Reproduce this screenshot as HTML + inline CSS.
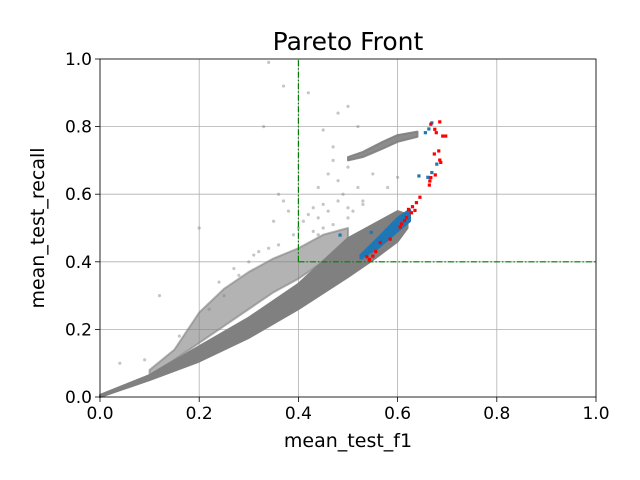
<!DOCTYPE html>
<html><head><meta charset="utf-8"><style>
html,body{margin:0;padding:0;background:#fff;}
svg{display:block;font-family:"DejaVu Sans","Liberation Sans",sans-serif;}
</style></head><body>
<svg id="chart" width="640" height="480" viewBox="0 0 640 480">
<rect x="0" y="0" width="640" height="480" fill="#fff"/>
<text x="348" y="50" font-size="25" text-anchor="middle">Pareto Front</text>
<text x="348" y="447" font-size="19" text-anchor="middle">mean_test_f1</text>
<text x="44" y="228" font-size="19" text-anchor="middle" transform="rotate(-90 44 228)">mean_test_recall</text>
<g id="grid"></g>
<g id="marks"></g>
<g id="axes"></g>
</svg>
<script>
const xTicks=[0,0.2,0.4,0.6,0.8,1.0];
const yTicks=[0,0.2,0.4,0.6,0.8,1.0];
const tickLabels=["0.0","0.2","0.4","0.6","0.8","1.0"];
const mainBandX=[0,0.1,0.2,0.3,0.4,0.5,0.55,0.6,0.62];
const mainBandLow=[0,0.05,0.105,0.175,0.26,0.355,0.405,0.46,0.5];
const mainBandHigh=[0.006,0.065,0.15,0.235,0.335,0.47,0.51,0.55,0.54];
const upperBandX=[0.1,0.15,0.2,0.25,0.3,0.35,0.4,0.45,0.5];
const upperBandLow=[0.065,0.11,0.16,0.21,0.26,0.31,0.35,0.4,0.45];
const upperBandHigh=[0.08,0.14,0.25,0.32,0.37,0.41,0.44,0.48,0.5];
const clusterX=[0.5,0.53,0.57,0.6,0.64];
const clusterLow=[0.7,0.71,0.735,0.755,0.77];
const clusterHigh=[0.71,0.725,0.755,0.775,0.785];
const blueBandX=[0.525,0.56,0.6,0.625];
const blueBandLow=[0.41,0.44,0.49,0.52];
const blueBandHigh=[0.42,0.47,0.53,0.555];
const greyX=[0.33,0.2,0.12,0.04,0.34,0.37,0.45,0.42,0.38,0.35,0.36,0.37,0.44,0.46,0.48,0.47,0.49,0.52,0.5,0.43,0.45,0.41,0.39,0.44,0.5,0.55,0.58,0.53,0.6,0.28,0.3,0.25,0.22,0.16,0.09,0.32,0.48,0.5,0.47,0.52,0.4,0.42,0.44,0.46,0.48,0.5,0.51,0.53,0.47,0.45,0.43,0.36,0.34,0.31,0.27,0.24];
const greyY=[0.8,0.5,0.3,0.1,0.99,0.92,0.79,0.9,0.55,0.52,0.6,0.58,0.62,0.66,0.64,0.7,0.6,0.62,0.56,0.56,0.57,0.52,0.48,0.48,0.68,0.66,0.62,0.58,0.65,0.36,0.4,0.3,0.26,0.18,0.11,0.43,0.84,0.86,0.74,0.8,0.5,0.54,0.53,0.55,0.58,0.53,0.55,0.57,0.51,0.5,0.49,0.45,0.44,0.42,0.38,0.34];
const redX=[0.685,0.667,0.675,0.678,0.691,0.697,0.683,0.674,0.685,0.687,0.676,0.667,0.665,0.664,0.645,0.638,0.63,0.622,0.635,0.628,0.618,0.614,0.608,0.605,0.585,0.565,0.556,0.55,0.538,0.543];
const redY=[0.814,0.807,0.792,0.782,0.772,0.772,0.728,0.719,0.701,0.694,0.657,0.649,0.639,0.627,0.591,0.575,0.563,0.555,0.552,0.545,0.531,0.522,0.512,0.503,0.467,0.457,0.43,0.417,0.415,0.407];
const blueX=[0.669,0.663,0.656,0.679,0.643,0.661,0.669,0.625,0.615,0.605,0.598,0.591,0.585,0.578,0.568,0.562,0.551,0.544,0.534,0.528,0.484,0.547,0.591,0.611];
const blueY=[0.811,0.793,0.782,0.689,0.654,0.65,0.664,0.547,0.537,0.517,0.502,0.493,0.483,0.479,0.469,0.456,0.446,0.436,0.422,0.412,0.479,0.487,0.512,0.529];

const X0=100,X1=596,Y0=397,Y1=59;
const sx=v=>X0+v*(X1-X0);
const sy=v=>Y0-v*(Y0-Y1);
const NS="http://www.w3.org/2000/svg";
function mk(tag,attrs,parent){const e=document.createElementNS(NS,tag);for(const k in attrs)e.setAttribute(k,attrs[k]);parent.appendChild(e);return e;}
const grid=document.getElementById('grid'),marks=document.getElementById('marks'),axes=document.getElementById('axes');

xTicks.forEach((t,i)=>{
  const l=mk('line',{x1:sx(t),x2:sx(t),y1:Y1,y2:Y0,stroke:'#b0b0b0','stroke-width':0.8},grid);
  
  
  const tk=mk('line',{x1:sx(t),x2:sx(t),y1:Y0,y2:Y0+5,stroke:'#000','stroke-width':0.8},axes);
  
  
  const tx=mk('text',{x:sx(t),y:Y0+22,'font-size':17,'text-anchor':'middle'},axes);
  tx.textContent=tickLabels[i];
  
  
});
yTicks.forEach((t,i)=>{
  const l=mk('line',{x1:X0,x2:X1,y1:sy(t),y2:sy(t),stroke:'#b0b0b0','stroke-width':0.8},grid);
  
  
  const tk=mk('line',{x1:X0-5,x2:X0,y1:sy(t),y2:sy(t),stroke:'#000','stroke-width':0.8},axes);
  
  
  const tx=mk('text',{x:X0-8,y:sy(t)+6,'font-size':17,'text-anchor':'end'},axes);
  tx.textContent=tickLabels[i];
  
  
});
const frame=mk('rect',{x:X0,y:Y1,width:X1-X0,height:Y0-Y1,fill:'none',stroke:'#000','stroke-width':0.8},axes);



function band(xs,lo,hi,op,name,col){
  let pts=xs.map((x,i)=>sx(x)+','+sy(hi[i]));
  for(let i=xs.length-1;i>=0;i--)pts.push(sx(xs[i])+','+sy(lo[i]));
  const p=mk('polygon',{points:pts.join(' '),fill:col,'fill-opacity':op,stroke:col,'stroke-opacity':op,'stroke-width':2,'stroke-linejoin':'round'},marks);
  
  
}
band(upperBandX,upperBandLow,upperBandHigh,0.6,'upper-grey-band','#808080');
band(mainBandX,mainBandLow,mainBandHigh,1,'main-grey-band','#808080');
band(clusterX,clusterLow,clusterHigh,0.9,'upper-grey-cluster','#808080');
greyX.forEach((x,i)=>{
  const c=mk('circle',{cx:sx(x),cy:sy(greyY[i]),r:1.6,fill:'#808080','fill-opacity':0.45},marks);
  
  
});
const v=mk('line',{x1:sx(0.4),x2:sx(0.4),y1:sy(0.4),y2:sy(1),stroke:'#008000','stroke-width':1.2,'stroke-dasharray':'6,2,1.5,2'},marks);


const h=mk('line',{x1:sx(0.4),x2:sx(1),y1:sy(0.4),y2:sy(0.4),stroke:'#008000','stroke-width':1.2,'stroke-dasharray':'6,2,1.5,2'},marks);


band(blueBandX,blueBandLow,blueBandHigh,1,'blue-band','#1f77b4');
blueX.forEach((x,i)=>{
  const c=mk('rect',{x:sx(x)-1.6,y:sy(blueY[i])-1.6,width:3.2,height:3.2,fill:'#1f77b4'},marks);
  
  
});
redX.forEach((x,i)=>{
  const c=mk('rect',{x:sx(x)-1.6,y:sy(redY[i])-1.6,width:3.2,height:3.2,fill:'#ff0000'},marks);
  
  
});
</script>
</body></html>
